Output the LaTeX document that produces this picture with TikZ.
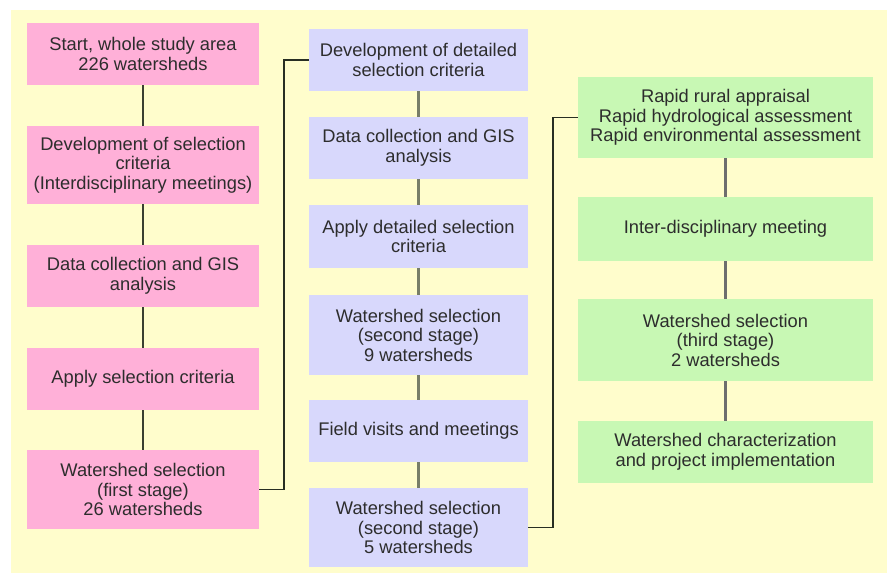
\documentclass[tikz,border=0pt]{standalone}
\usepackage{fontspec}
\setmainfont{Liberation Sans}
\definecolor{bgyellow}{RGB}{255,253,204}
\definecolor{pinkbox}{RGB}{255,176,216}
\definecolor{lavbox}{RGB}{216,216,252}
\definecolor{greenbox}{RGB}{200,248,180}
\definecolor{txtgray}{RGB}{45,45,45}
\definecolor{lineleft}{RGB}{58,64,48}
\definecolor{linemid}{RGB}{120,126,104}
\definecolor{lineright}{RGB}{110,110,110}
\definecolor{lineelbow}{RGB}{40,46,34}
\tikzset{
  boxbase/.style={rectangle, inner sep=0pt, align=center, text=txtgray,
    font=\fontsize{18.3}{19.5}\selectfont},
  pbox/.style={boxbase, fill=pinkbox, minimum width=232pt},
  lbox/.style={boxbase, fill=lavbox, minimum width=219pt},
  gbox/.style={boxbase, fill=greenbox, minimum width=295pt},
  lconn/.style={draw=lineleft, line width=1.6pt},
  mconn/.style={draw=linemid, line width=2.6pt},
  rconn/.style={draw=lineright, line width=2.6pt},
  elbow/.style={draw=lineelbow, line width=1.6pt},
}
\begin{document}
\begin{tikzpicture}[x=1pt,y=-1pt]
\useasboundingbox (0,0) rectangle (890,573);
\fill[bgyellow] (11,10) rectangle (887,573);
% left column
\node[pbox, minimum height=62pt] (p1) at (143,54) {Start, whole study area\\226 watersheds};
\node[pbox, minimum height=78pt] (p2) at (143,165) {Development of selection\\criteria\\(Interdisciplinary meetings)};
\node[pbox, minimum height=62pt] (p3) at (143,276) {Data collection and GIS\\analysis};
\node[pbox, minimum height=62pt] (p4) at (143,379) {Apply selection criteria};
\node[pbox, minimum height=79pt] (p5) at (143,489.5) {Watershed selection\\(first stage)\\26 watersheds};
% middle column
\node[lbox, minimum height=62pt] (l1) at (418.5,60) {Development of detailed\\selection criteria};
\node[lbox, minimum height=62pt] (l2) at (418.5,148) {Data collection and GIS\\analysis};
\node[lbox, minimum height=63pt] (l3) at (418.5,236.5) {Apply detailed selection\\criteria};
\node[lbox, minimum height=80pt] (l4) at (418.5,335) {Watershed selection\\(second stage)\\9 watersheds};
\node[lbox, minimum height=62pt] (l5) at (418.5,431) {Field visits and meetings};
\node[lbox, minimum height=79pt] (l6) at (418.5,527.5) {Watershed selection\\(second stage)\\5 watersheds};
% right column
\node[gbox, minimum height=81pt] (g1) at (725.5,117.5) {Rapid rural appraisal\\Rapid hydrological assessment\\Rapid environmental assessment};
\node[gbox, minimum height=64pt] (g2) at (725.5,229) {Inter-disciplinary meeting};
\node[gbox, minimum height=82pt] (g3) at (725.5,340) {Watershed selection\\(third stage)\\2 watersheds};
\node[gbox, minimum height=62pt] (g4) at (725.5,452) {Watershed characterization\\and project implementation};
% connectors
\draw[lconn] (p1) -- (p2);
\draw[lconn] (p2) -- (p3);
\draw[lconn] (p3) -- (p4);
\draw[lconn] (p4) -- (p5);
\draw[mconn] (l1) -- (l2);
\draw[mconn] (l2) -- (l3);
\draw[mconn] (l3) -- (l4);
\draw[mconn] (l4) -- (l5);
\draw[mconn] (l5) -- (l6);
\draw[rconn] (g1) -- (g2);
\draw[rconn] (g2) -- (g3);
\draw[rconn] (g3) -- (g4);
\draw[elbow] (p5.east) -- ++(25,0) |- (l1.west);
\draw[elbow] (l6.east) -- ++(25,0) |- (g1.west);
\end{tikzpicture}
\end{document}
